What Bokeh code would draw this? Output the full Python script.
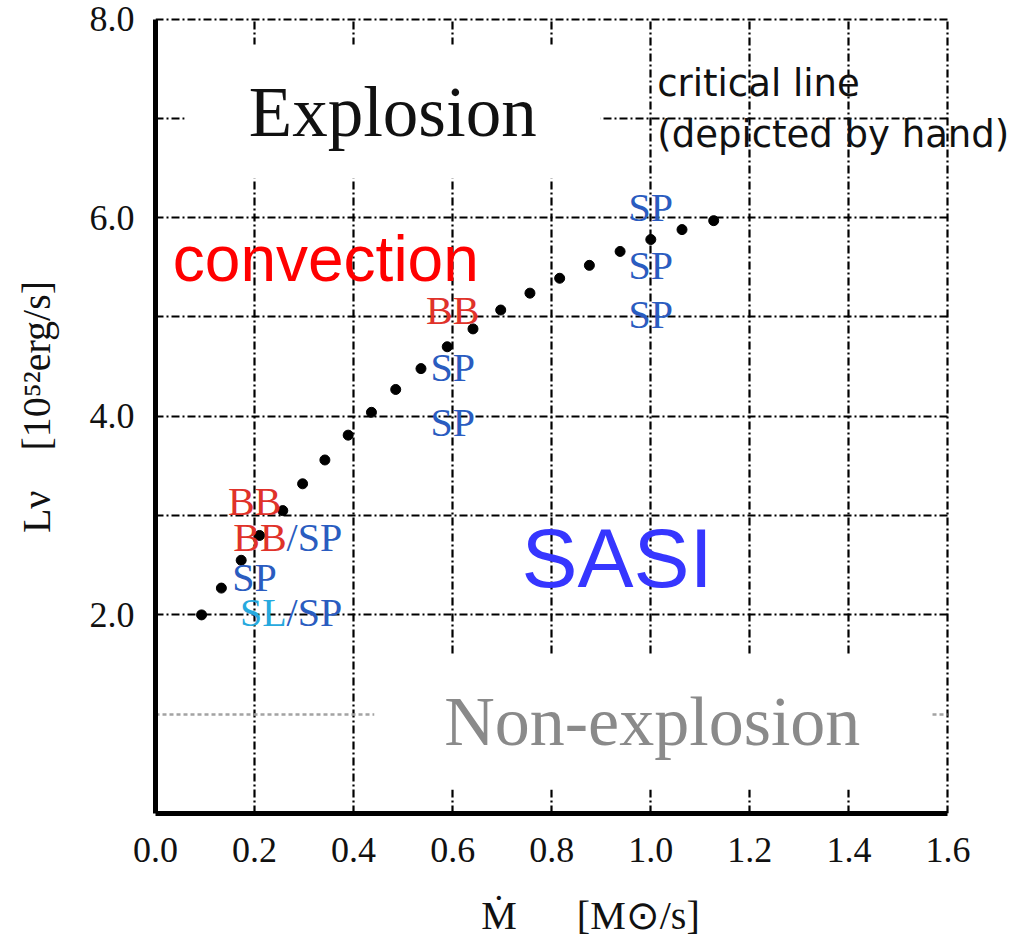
from bokeh.plotting import figure
from bokeh.models import Label, FixedTicker, Grid, PrintfTickFormatter, Range1d, ColumnDataSource
from bokeh.core.properties import value
from bokeh.embed import file_html
from bokeh.resources import INLINE

# Critical line (drawn by hand): mass accretion rate [Msun/s] vs neutrino luminosity [1e52 erg/s]
crit_mdot = [0.093, 0.133, 0.173, 0.210, 0.257, 0.297, 0.342, 0.389, 0.436, 0.485, 0.536,
             0.589, 0.641, 0.697, 0.756, 0.816, 0.876, 0.938, 1.000, 1.063, 1.127]
crit_lnu = [2.00, 2.27, 2.55, 2.80, 3.05, 3.32, 3.56, 3.81, 4.04, 4.27, 4.48,
            4.70, 4.88, 5.07, 5.24, 5.39, 5.52, 5.66, 5.78, 5.88, 5.97]

# Simulated runs and their dominant mode (BB, SP, SL, or mixed "A/B")
run_mdot = [0.2, 0.2, 0.2, 0.2, 0.6, 0.6, 0.6, 1.0, 1.0, 1.0]
run_lnu = [3.14, 2.78, 2.38, 2.02, 5.07, 4.49, 3.94, 6.10, 5.52, 5.02]
run_mode = ["BB", "BB/SP", "SP", "SL/SP", "BB", "SP", "SP", "SP", "SP", "SP"]

mode_colors = {"BB": "#e0322a", "SP": "#2a5cc0", "SL": "#27a9de"}

x_ticks = [0.0, 0.2, 0.4, 0.6, 0.8, 1.0, 1.2, 1.4, 1.6]
y_ticks = [2.0, 4.0, 6.0, 8.0]
x_grid = [0.2, 0.4, 0.6, 0.8, 1.0, 1.2, 1.4, 1.6]
y_grid = [2.0, 3.0, 4.0, 5.0, 6.0, 7.0, 8.0]
x_span = (0.0, 1.6)
y_span = (0.0, 8.0)

SERIF = "Liberation Serif"
SANS = "Liberation Sans"

# the frame runs a little past the axes so the side note is not clipped
p = figure(width=1025, height=948, output_backend="svg", toolbar_location=None,
           x_range=Range1d(0.0, 1.7565), y_range=Range1d(0.0, 8.187),
           min_border_left=155, min_border_right=0, min_border_top=0, min_border_bottom=135)
p.outline_line_color = None
p.background_fill_color = "white"
p.border_fill_color = "white"

# axes
for ax in (p.xaxis[0], p.yaxis[0]):
    ax.axis_line_width = 5
    ax.axis_line_color = "black"
    ax.major_tick_line_color = None
    ax.minor_tick_line_color = None
    ax.major_label_text_font = SERIF
    ax.major_label_text_font_size = "36px"
    ax.major_label_text_color = "#111111"
    ax.formatter = PrintfTickFormatter(format="%.1f")
    ax.axis_label_text_font = SERIF
    ax.axis_label_text_font_size = "40px"
    ax.axis_label_text_font_style = "normal"
    ax.axis_label_text_color = "#111111"

p.xaxis.ticker = FixedTicker(ticks=x_ticks)
p.yaxis.ticker = FixedTicker(ticks=y_ticks)
p.xaxis.bounds = x_span
p.yaxis.bounds = y_span
p.xaxis.major_label_standoff = 18
p.yaxis.major_label_standoff = 15
p.xaxis.axis_label = "Ṁ\u2003\u2002[M⊙/s]"
p.yaxis.axis_label = "Lν\u2003[10⁵²erg/s]"
p.xaxis.axis_label_standoff = 28
p.yaxis.axis_label_standoff = 28

# dash-dot grid
p.xgrid.ticker = FixedTicker(ticks=x_grid)
p.ygrid.ticker = FixedTicker(ticks=y_grid)
p.xgrid.cross_bounds = y_span
p.ygrid.cross_bounds = x_span
for g in (p.xgrid[0], p.ygrid[0]):
    g.grid_line_color = "#000000"
    g.grid_line_width = 2.2
    g.grid_line_dash = "8 3 2 3"

# faint dotted line at L = 1
low_grid = Grid(dimension=1, ticker=FixedTicker(ticks=[1.0]), cross_bounds=x_span,
                grid_line_color="#a3a3a3", grid_line_width=2.5, grid_line_dash="4 3")
p.add_layout(low_grid)

# critical line dots
p.scatter(crit_mdot, crit_lnu, size=10, color="black")

# run labels: single modes centred, mixed modes split at the slash
single = dict(x=[], y=[], text=[], color=[])
head = dict(x=[], y=[], text=[], color=[])
tail = dict(x=[], y=[], text=[], color=[])
for m, l, mode in zip(run_mdot, run_lnu, run_mode):
    parts = mode.split("/")
    if len(parts) == 1:
        single["x"].append(m); single["y"].append(l)
        single["text"].append(mode); single["color"].append(mode_colors[mode])
    else:
        head["x"].append(m); head["y"].append(l)
        head["text"].append(parts[0]); head["color"].append(mode_colors[parts[0]])
        tail["x"].append(m); tail["y"].append(l)
        tail["text"].append("/" + parts[1]); tail["color"].append(mode_colors[parts[1]])

common = dict(text_font=value(SERIF), text_font_size="40px", text_baseline="middle")
p.text(x="x", y="y", text="text", text_color="color", text_align="center",
       source=ColumnDataSource(single), **common)
p.text(x="x", y="y", text="text", text_color="color", text_align="right", x_offset=32,
       source=ColumnDataSource(head), **common)
p.text(x="x", y="y", text="text", text_color="color", text_align="left", x_offset=32,
       source=ColumnDataSource(tail), **common)

# region annotations (padding order: left, right, top, bottom)
p.add_layout(Label(x=0.479, y=7.068, text="Explosion", text_font=SERIF, text_font_size="71px",
                   text_color="#111111", text_align="center", text_baseline="middle",
                   background_fill_color="white", padding=(64, 64, 28, 28)))
p.add_layout(Label(x=1.003, y=0.922, text="Non-explosion", text_font=SERIF, text_font_size="70px",
                   text_color="#8a8a8a", text_align="center", text_baseline="middle",
                   background_fill_color="white", padding=(70, 70, 29, 29)))
p.add_layout(Label(x=0.035, y=5.585, text="convection", text_font=SANS, text_font_size="64px",
                   text_color="#ff0000", text_align="left", text_baseline="middle"))
p.add_layout(Label(x=0.739, y=2.575, text="SASI", text_font=SANS, text_font_size="84px",
                   text_color="#3636ff", text_align="left", text_baseline="middle"))
p.add_layout(Label(x=1.013, y=7.352, text="critical line", text_font="DejaVu Sans",
                   text_font_size="37px", text_color="#111111", text_align="left",
                   text_baseline="middle"))
p.add_layout(Label(x=1.013, y=6.839, text="(depicted by hand)", text_font="DejaVu Sans",
                   text_font_size="37px", text_color="#111111", text_align="left",
                   text_baseline="middle"))

open("out.html", "w").write(file_html(p, INLINE))
